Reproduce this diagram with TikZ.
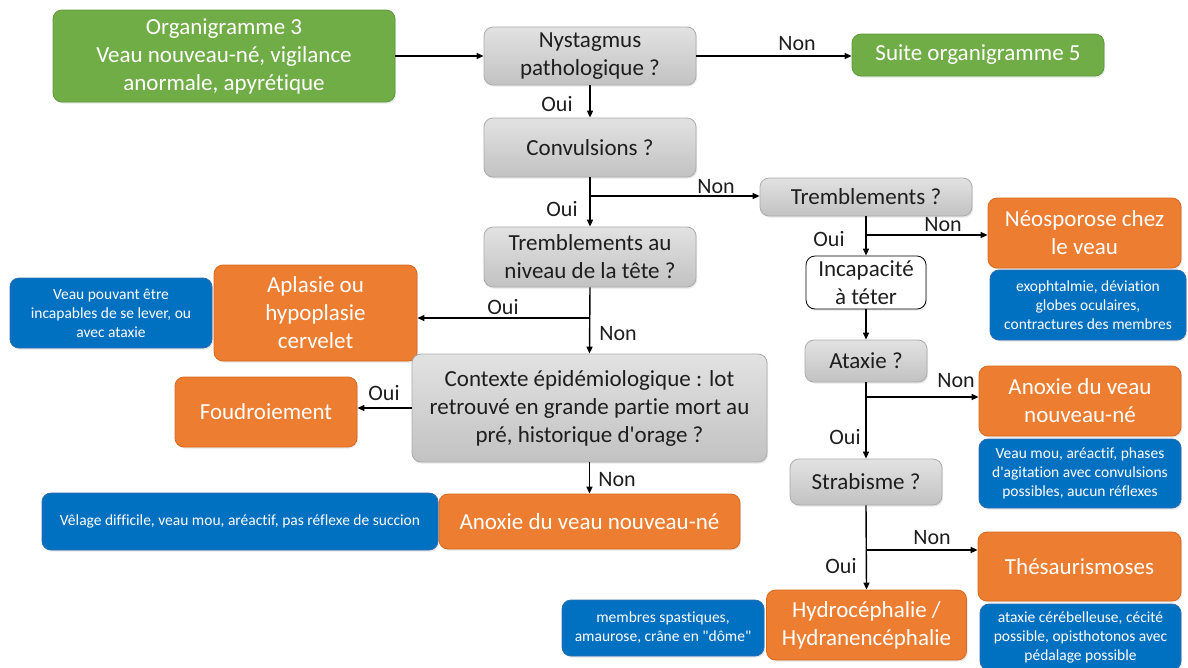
\documentclass[tikz,border=0pt]{standalone}
\usepackage{fontspec}
\newfontfamily\carl{Carlito}[RawFeature={-liga;-clig}]
\usetikzlibrary{arrows.meta,shadows}
\definecolor{grnfill}{HTML}{70AD47}
\definecolor{grnline}{HTML}{5E9A3A}
\definecolor{orgfill}{HTML}{ED7D31}
\definecolor{orgline}{HTML}{D9691F}
\definecolor{blufill}{HTML}{0070C0}
\definecolor{bluline}{HTML}{2F6DB0}
\definecolor{gtop}{HTML}{E2E2E2}
\definecolor{gbot}{HTML}{C2C2C2}
\definecolor{gline}{HTML}{ABABAB}
\definecolor{txt}{HTML}{1E1E1E}
\tikzset{
  base/.style={rounded corners=9pt, align=center, inner sep=2pt, line width=0.8pt,
    font=\carl\fontsize{23}{28}\selectfont,
    drop shadow={shadow xshift=1.2pt, shadow yshift=-1.6pt, opacity=0.18}},
  qbox/.style={base, top color=gtop, bottom color=gbot, draw=gline, text=txt},
  obox/.style={base, fill=orgfill, draw=orgline, text=white},
  gbox/.style={base, fill=grnfill, draw=grnline, text=white},
  bbox/.style={base, fill=blufill, draw=bluline, text=white,
    font=\carl\fontsize{15.5}{19}\selectfont},
  wbox/.style={base, fill=white, draw=black, text=txt, drop shadow={opacity=0}},
  lbl/.style={font=\carl\fontsize{22}{26}\selectfont, text=txt, inner sep=0pt},
  arr/.style={line width=1.4pt, -{Triangle[length=7pt,width=6pt]}}
}
\begin{document}
\begin{tikzpicture}[x=1pt,y=-1pt]
\useasboundingbox (0,0) rectangle (1188,667);

% left column of questions
\node[gbox, minimum width=342pt, minimum height=92pt] (org) at (224,56)
  {Organigramme 3\\Veau nouveau-né, vigilance\\anormale, apyrétique};
\node[qbox, minimum width=212pt, minimum height=58pt] (nys) at (590,56)
  {Nystagmus\\pathologique ?};
\node[gbox, minimum width=252pt, minimum height=42pt] (suite) at (978,55)
  {Suite organigramme 5};
\node[qbox, minimum width=212pt, minimum height=59pt] (conv) at (590,147.5)
  {Convulsions ?};
\node[qbox, minimum width=212pt, minimum height=60pt] (tete) at (590,257)
  {Tremblements au\\niveau de la tête ?};
\node[obox, minimum width=203pt, minimum height=96pt] (apl) at (315.5,313)
  {Aplasie ou\\hypoplasie\\cervelet};
\node[bbox, minimum width=202pt, minimum height=70pt] (aplb) at (111,313)
  {Veau pouvant être\\incapables de se lever, ou\\avec ataxie};
\node[qbox, minimum width=355pt, minimum height=108pt] (ctx) at (589.5,408)
  {Contexte épidémiologique : lot\\retrouvé en grande partie mort au\\pré, historique d'orage ?};
\node[obox, minimum width=182pt, minimum height=70pt] (foud) at (266,412)
  {Foudroiement};
\node[obox, minimum width=301pt, minimum height=55pt] (anoxa) at (589.5,521.5)
  {Anoxie du veau nouveau-né};
\node[bbox, minimum width=396pt, minimum height=57pt] (anoxab) at (240,521.5)
  {Vêlage difficile, veau mou, aréactif, pas réflexe de succion};

% right column of questions
\node[qbox, minimum width=212pt, minimum height=38pt] (trem) at (866,197)
  {Tremblements ?};
\node[obox, minimum width=193pt, minimum height=70pt] (neo) at (1084.5,233)
  {Néosporose chez\\le veau};
\node[bbox, minimum width=196pt, minimum height=70pt] (neob) at (1088,305)
  {exophtalmie, déviation\\globes oculaires,\\contractures des membres};
\node[wbox, minimum width=120pt, minimum height=53pt] (inc) at (866,282.5)
  {Incapacité\\à téter};
\node[qbox, minimum width=122pt, minimum height=42pt] (ata) at (866,361)
  {Ataxie ?};
\node[obox, minimum width=202pt, minimum height=70pt] (anoxb) at (1080,401)
  {Anoxie du veau\\nouveau-né};
\node[bbox, minimum width=202pt, minimum height=69pt] (anoxbb) at (1080,473.5)
  {Veau mou, aréactif, phases\\d'agitation avec convulsions\\possibles, aucun réflexes};
\node[qbox, minimum width=152pt, minimum height=46pt] (strab) at (866,482)
  {Strabisme ?};
\node[obox, minimum width=203pt, minimum height=69pt] (thes) at (1079.5,566.5)
  {Thésaurismoses};
\node[bbox, minimum width=201pt, minimum height=66pt] (thesb) at (1080.5,637)
  {ataxie cérébelleuse, cécité\\possible, opisthotonos avec\\pédalage possible};
\node[obox, minimum width=200pt, minimum height=70pt] (hyd) at (866.5,625)
  {Hydrocéphalie /\\Hydranencéphalie};
\node[bbox, minimum width=202pt, minimum height=56pt] (hydb) at (663,628)
  {membres spastiques,\\amaurose, crâne en "dôme"};

% branch points
\coordinate (bc) at (590,196);
\coordinate (bt) at (866,235);
\coordinate (bh) at (590,318);
\coordinate (ba) at (866,397);
\coordinate (bs) at (866,550);

% connectors
\draw[arr] (org.east |- nys) -- (nys.west);
\draw[arr] (nys.east) -- (nys.east -| suite.west);
\draw[arr] (nys.south) -- (conv.north);
\draw[arr] (conv.south) -- (tete.north);
\draw[arr] (bc) -- (bc -| trem.west);
\draw[arr] (tete.south) -- (ctx.north);
\draw[arr] (bh) -- (bh -| apl.east);
\draw[arr] (ctx.west) -- (ctx.west -| foud.east);
\draw[arr] (ctx.south) -- (anoxa.north);
\draw[arr] (trem.south) -- (inc.north);
\draw[arr] (bt) -- (bt -| neo.west);
\draw[arr] (inc.south) -- (ata.north);
\draw[arr] (ata.south) -- (strab.north);
\draw[arr] (ba) -- (ba -| anoxb.west);
\draw[arr] (strab.south) -- (hyd.north);
\draw[arr] (bs) -- (bs -| thes.west);

% branch labels
\node[lbl] (l1) at (797,44) {Non};
\node[lbl] (l2) at (557,104) {Oui};
\node[lbl] (l3) at (716,187) {Non};
\node[lbl] (l4) at (562,209) {Oui};
\node[lbl] (l5) at (943,225) {Non};
\node[lbl] (l6) at (829,239) {Oui};
\node[lbl] (l7) at (503,307) {Oui};
\node[lbl] (l8) at (618,334) {Non};
\node[lbl] (l9) at (384,393) {Oui};
\node[lbl] (l10) at (617,480) {Non};
\node[lbl] (l11) at (956,381) {Non};
\node[lbl] (l12) at (845,437) {Oui};
\node[lbl] (l13) at (932,538) {Non};
\node[lbl] (l14) at (841,566) {Oui};
\end{tikzpicture}
\end{document}
